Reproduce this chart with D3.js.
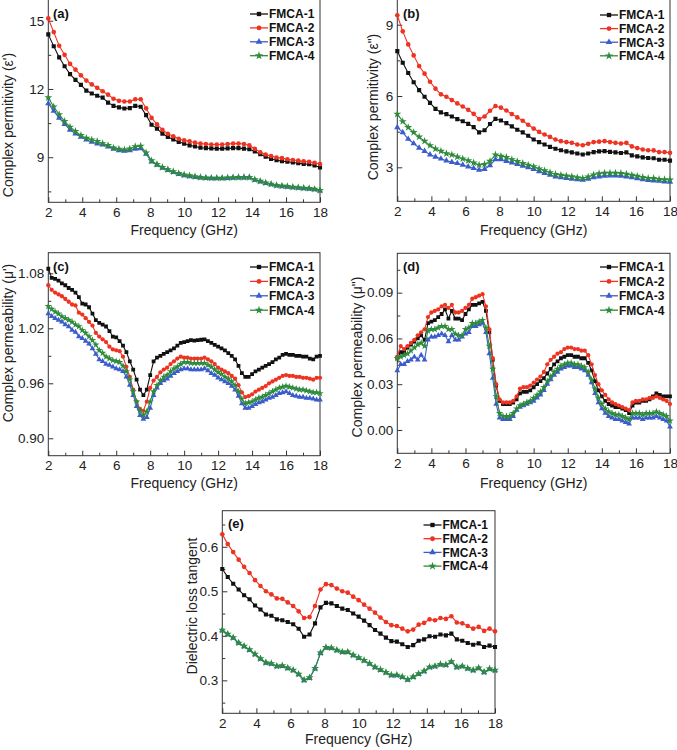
<!DOCTYPE html>
<html><head><meta charset="utf-8">
<script src="https://cdn.jsdelivr.net/npm/d3@7"></script>
<style>body{margin:0;background:#fff;} svg{display:block;font-family:"Liberation Sans",Arial,sans-serif;}</style>
</head><body><svg id="chart" width="677" height="750"></svg>
<script>
const seriesNames = ["FMCA-1","FMCA-2","FMCA-3","FMCA-4"];
const xTicks = [2,4,6,8,10,12,14,16,18];
const xMinor = [3,5,7,9,11,13,15,17];
// frequency grids (GHz)
const freqCoarse = d3.range(51).map(i => +(2 + i * 0.32).toFixed(2));
const freqFine = d3.range(81).map(i => +(2 + i * 0.2).toFixed(2));

// (a) real permittivity
const epsR1 = [14.4,13.88,13.39,13.0,12.65,12.4,12.18,11.93,11.8,11.7,11.62,11.4,11.26,11.19,11.14,11.16,11.26,11.22,10.85,10.43,10.26,10.04,9.89,9.78,9.67,9.6,9.52,9.47,9.42,9.4,9.39,9.38,9.38,9.39,9.4,9.4,9.38,9.35,9.25,9.13,9.02,8.93,8.87,8.83,8.8,8.77,8.74,8.71,8.69,8.64,8.55];
const epsR2 = [15.1,14.5,13.9,13.5,13.1,12.85,12.6,12.37,12.2,12.05,11.9,11.75,11.57,11.48,11.45,11.45,11.55,11.55,11.15,10.73,10.45,10.2,10.03,9.92,9.81,9.74,9.7,9.64,9.6,9.58,9.56,9.56,9.56,9.58,9.6,9.6,9.58,9.52,9.37,9.22,9.12,9.05,8.99,8.96,8.91,8.88,8.85,8.82,8.8,8.76,8.7];
const epsR3 = [11.36,11.03,10.73,10.45,10.2,10.03,9.89,9.77,9.67,9.6,9.55,9.46,9.37,9.3,9.28,9.3,9.37,9.39,9.15,8.81,8.66,8.53,8.43,8.34,8.26,8.2,8.16,8.12,8.1,8.08,8.07,8.07,8.07,8.08,8.09,8.1,8.1,8.1,8.0,7.93,7.86,7.8,7.75,7.72,7.7,7.67,7.65,7.63,7.61,7.58,7.53];
const epsR4 = [11.62,11.22,10.88,10.58,10.33,10.14,9.96,9.84,9.77,9.7,9.6,9.52,9.41,9.36,9.33,9.37,9.47,9.49,9.2,8.85,8.69,8.56,8.46,8.37,8.29,8.23,8.19,8.15,8.12,8.1,8.09,8.09,8.09,8.1,8.11,8.12,8.12,8.12,8.02,7.95,7.88,7.82,7.77,7.74,7.72,7.69,7.67,7.65,7.63,7.6,7.55];

// (b) imaginary permittivity
const epsI1 = [7.89,7.4,6.97,6.58,6.25,5.97,5.71,5.46,5.31,5.24,5.14,5.03,4.94,4.83,4.69,4.47,4.56,4.82,5.04,4.97,4.86,4.72,4.58,4.47,4.33,4.17,4.06,3.96,3.86,3.78,3.72,3.67,3.63,3.58,3.54,3.58,3.64,3.67,3.68,3.65,3.63,3.6,3.63,3.5,3.46,3.42,3.39,3.38,3.32,3.32,3.28];
const epsI2 = [9.4,8.72,8.17,7.71,7.26,6.94,6.6,6.31,6.07,5.97,5.83,5.69,5.56,5.42,5.25,5.03,5.14,5.38,5.58,5.51,5.39,5.24,5.1,4.96,4.79,4.63,4.49,4.38,4.28,4.17,4.1,4.06,4.03,3.96,3.93,3.99,4.06,4.08,4.1,4.06,4.03,4.0,4.03,3.88,3.81,3.75,3.72,3.71,3.64,3.64,3.61];
const epsI3 = [4.68,4.47,4.19,4.0,3.82,3.68,3.53,3.44,3.36,3.28,3.22,3.17,3.1,3.03,2.96,2.89,2.92,3.08,3.33,3.33,3.26,3.19,3.13,3.06,2.99,2.92,2.83,2.75,2.68,2.61,2.57,2.54,2.51,2.49,2.47,2.51,2.57,2.61,2.64,2.65,2.65,2.64,2.61,2.57,2.53,2.49,2.46,2.44,2.43,2.4,2.38];
const epsI4 = [5.24,4.93,4.68,4.47,4.28,4.1,3.92,3.78,3.68,3.58,3.53,3.44,3.36,3.28,3.19,3.1,3.13,3.26,3.53,3.47,3.42,3.33,3.25,3.17,3.1,3.03,2.94,2.86,2.78,2.71,2.67,2.64,2.61,2.57,2.54,2.6,2.69,2.74,2.76,2.76,2.76,2.75,2.72,2.67,2.63,2.58,2.54,2.54,2.5,2.49,2.47];

// (c) real permeability
const muR1 = [1.085,1.075,1.074,1.072,1.069,1.067,1.064,1.062,1.059,1.054,1.047,1.046,1.043,1.036,1.029,1.026,1.024,1.022,1.017,1.011,1.010,1.006,1.001,0.994,0.984,0.975,0.964,0.953,0.947,0.953,0.969,0.984,0.988,0.990,0.992,0.994,0.996,0.998,1.001,1.004,1.005,1.006,1.007,1.0065,1.007,1.0075,1.008,1.006,1.004,1.002,1.000,0.998,0.996,0.993,0.990,0.986,0.979,0.971,0.967,0.967,0.970,0.973,0.975,0.977,0.979,0.981,0.983,0.986,0.988,0.991,0.992,0.991,0.991,0.990,0.990,0.989,0.989,0.987,0.986,0.989,0.990];
const muR2 = [1.067,1.062,1.059,1.057,1.055,1.052,1.049,1.046,1.045,1.037,1.035,1.031,1.027,1.023,1.015,1.011,1.008,1.005,1.000,0.997,0.996,0.995,0.989,0.978,0.967,0.953,0.940,0.932,0.930,0.940,0.955,0.963,0.967,0.972,0.975,0.977,0.981,0.984,0.987,0.989,0.988,0.988,0.987,0.987,0.987,0.987,0.988,0.986,0.984,0.981,0.977,0.975,0.973,0.971,0.968,0.965,0.958,0.950,0.945,0.946,0.948,0.951,0.953,0.955,0.957,0.960,0.962,0.964,0.966,0.968,0.969,0.968,0.968,0.967,0.967,0.966,0.966,0.965,0.964,0.966,0.966];
const muR3 = [1.036,1.033,1.031,1.029,1.027,1.024,1.022,1.018,1.016,1.011,1.009,1.006,1.003,0.998,0.992,0.986,0.984,0.981,0.980,0.978,0.976,0.975,0.973,0.967,0.958,0.947,0.935,0.925,0.921,0.923,0.933,0.947,0.955,0.960,0.963,0.965,0.968,0.971,0.973,0.975,0.976,0.976,0.975,0.975,0.975,0.975,0.976,0.974,0.971,0.969,0.966,0.964,0.962,0.960,0.957,0.953,0.946,0.938,0.933,0.933,0.935,0.937,0.939,0.940,0.942,0.944,0.945,0.947,0.949,0.950,0.951,0.949,0.947,0.946,0.945,0.945,0.944,0.944,0.943,0.942,0.942];
const muR4 = [1.044,1.041,1.038,1.036,1.033,1.031,1.029,1.027,1.024,1.022,1.018,1.015,1.011,1.007,1.002,0.996,0.993,0.989,0.987,0.985,0.984,0.983,0.979,0.973,0.964,0.951,0.940,0.930,0.925,0.929,0.940,0.951,0.958,0.963,0.967,0.969,0.973,0.976,0.978,0.981,0.983,0.983,0.982,0.982,0.982,0.982,0.982,0.980,0.978,0.975,0.972,0.970,0.967,0.965,0.962,0.958,0.951,0.943,0.938,0.939,0.940,0.942,0.944,0.945,0.947,0.949,0.951,0.953,0.955,0.956,0.957,0.956,0.955,0.954,0.953,0.953,0.952,0.951,0.950,0.950,0.949];

// (d) imaginary permeability
const muI1 = [.047,.051,.051,.054,.056,.058,.060,.062,.059,.070,.071,.072,.074,.076,.079,.073,.078,.073,.073,.072,.076,.079,.082,.082,.083,.084,.078,.064,.046,.029,.019,.017,.017,.017,.018,.020,.024,.025,.025,.026,.028,.030,.032,.034,.037,.040,.043,.045,.047,.048,.049,.049,.048,.048,.047,.047,.044,.039,.032,.026,.022,.019,.017,.016,.015,.015,.014,.013,.011,.016,.018,.018,.019,.019,.020,.022,.024,.023,.022,.022,.022];
const muI2 = [.048,.055,.053,.055,.057,.059,.062,.064,.066,.074,.077,.078,.079,.081,.082,.080,.082,.077,.077,.078,.080,.082,.086,.087,.088,.089,.081,.066,.047,.030,.020,.018,.018,.018,.019,.022,.027,.028,.028,.029,.031,.033,.035,.038,.043,.046,.048,.050,.051,.053,.054,.054,.053,.053,.052,.052,.049,.043,.036,.030,.026,.023,.020,.018,.017,.016,.015,.014,.013,.018,.019,.019,.020,.020,.021,.021,.022,.021,.020,.019,.017];
const muI3 = [.039,.043,.043,.045,.046,.048,.046,.049,.046,.059,.061,.061,.062,.063,.062,.058,.062,.059,.059,.061,.063,.064,.068,.068,.069,.070,.064,.050,.034,.017,.008,.007,.007,.007,.009,.013,.015,.016,.017,.018,.019,.021,.023,.026,.030,.033,.036,.038,.040,.041,.042,.042,.041,.041,.040,.039,.036,.031,.024,.018,.014,.011,.009,.008,.007,.007,.006,.005,.004,.008,.008,.008,.007,.008,.008,.008,.009,.008,.007,.006,.002];
const muI4 = [.047,.048,.049,.050,.052,.054,.056,.057,.055,.065,.066,.066,.067,.068,.068,.066,.066,.063,.062,.062,.066,.067,.070,.070,.071,.072,.067,.055,.040,.022,.011,.009,.009,.009,.011,.014,.016,.017,.018,.019,.021,.023,.025,.028,.032,.035,.038,.040,.042,.043,.044,.044,.043,.043,.042,.041,.038,.033,.027,.021,.017,.014,.012,.011,.010,.010,.009,.008,.007,.011,.011,.011,.010,.011,.011,.011,.012,.011,.010,.009,.006];

// (e) dielectric loss tangent
const tan1 = [0.55,0.532,0.517,0.504,0.491,0.482,0.468,0.459,0.448,0.445,0.437,0.435,0.431,0.426,0.416,0.398,0.403,0.428,0.464,0.474,0.473,0.467,0.461,0.458,0.45,0.443,0.434,0.424,0.413,0.405,0.396,0.388,0.387,0.381,0.375,0.379,0.389,0.392,0.399,0.398,0.403,0.401,0.405,0.392,0.389,0.384,0.38,0.383,0.375,0.378,0.375];
const tan2 = [0.628,0.606,0.588,0.571,0.555,0.541,0.525,0.512,0.5,0.493,0.484,0.483,0.475,0.467,0.455,0.44,0.442,0.467,0.504,0.516,0.514,0.506,0.5,0.497,0.488,0.48,0.47,0.461,0.452,0.441,0.431,0.424,0.422,0.416,0.41,0.414,0.425,0.429,0.437,0.435,0.44,0.438,0.444,0.43,0.428,0.422,0.416,0.42,0.411,0.416,0.41];
const tan3 = [0.412,0.403,0.395,0.384,0.376,0.368,0.358,0.348,0.339,0.337,0.331,0.332,0.327,0.322,0.313,0.300,0.305,0.326,0.361,0.373,0.372,0.367,0.363,0.363,0.356,0.350,0.344,0.337,0.329,0.323,0.317,0.311,0.311,0.307,0.301,0.307,0.314,0.320,0.329,0.331,0.335,0.334,0.341,0.329,0.331,0.326,0.322,0.327,0.318,0.325,0.322];
const tan4 = [0.413,0.404,0.396,0.384,0.377,0.369,0.359,0.349,0.34,0.338,0.332,0.333,0.328,0.323,0.314,0.301,0.306,0.327,0.362,0.374,0.373,0.368,0.364,0.364,0.357,0.351,0.345,0.338,0.33,0.324,0.318,0.312,0.312,0.308,0.302,0.308,0.315,0.321,0.33,0.332,0.336,0.335,0.342,0.33,0.332,0.327,0.323,0.328,0.319,0.326,0.323];

// y tick labels per panel
const yTicksA = [9,12,15], yMinorA = [7.5,10.5,13.5];
const yTicksB = [3,6,9], yMinorB = [4.5,7.5];
const yTicksC = [0.90,0.96,1.02,1.08], yMinorC = [0.93,0.99,1.05];
const yTicksD = [0,0.03,0.06,0.09], yMinorD = [0.015,0.045,0.075,0.105];
const yTicksE = [0.3,0.4,0.5,0.6], yMinorE = [0.25,0.35,0.45,0.55,0.65];

const colors = ["#111111","#ee3322","#3a5ccc","#2e8b3c"];
const symbols = [d3.symbolSquare, d3.symbolCircle, d3.symbolTriangle, d3.symbolStar];
const symSize = [17, 17, 17, 20];

const panels = [
  {label:"(a)", x:freqCoarse, data:[epsR1,epsR2,epsR3,epsR4], yDom:[7.02,15.91], yT:yTicksA, yM:yMinorA, fmt:d3.format("d"),
   L:48.3, R:320, T:0, B:202.3, ytitle:"Complex permitivity (\u03b5')", ytX:8.5, ytY:125, legX:250, legY:14, legDy:13.9, labX:53, labY:13, xtY:230, mk:1},
  {label:"(b)", x:freqCoarse, data:[epsI1,epsI2,epsI3,epsI4], yDom:[1.57,10.04], yT:yTicksB, yM:yMinorB, fmt:d3.format("d"),
   L:397.3, R:670, T:0, B:201.3, ytitle:"Complex permitivity (\u03b5\")", ytX:373.5, ytY:107, legX:600, legY:15, legDy:13.6, labX:403, labY:13, xtY:230, mk:1},
  {label:"(c)", x:freqFine, data:[muR1,muR2,muR3,muR4], yDom:[0.881,1.1025], yT:yTicksC, yM:yMinorC, fmt:d3.format(".2f"),
   L:48.3, R:320, T:252.7, B:455.7, ytitle:"Complex permeability (\u03bc')", ytX:8.5, ytY:343, legX:250, legY:267, legDy:14.4, labX:53, labY:266, xtY:483, mk:0.85},
  {label:"(d)", x:freqFine, data:[muI1,muI2,muI3,muI4], yDom:[-0.0153,0.1158], yT:yTicksD, yM:yMinorD, fmt:d3.format(".2f"),
   L:397.3, R:670, T:253.3, B:453.3, ytitle:"Complex permeability (\u03bc\")", ytX:357, ytY:357, legX:600, legY:267, legDy:14.4, labX:403, labY:266, xtY:483, mk:0.85},
  {label:"(e)", x:freqCoarse, data:[tan1,tan2,tan3,tan4], yDom:[0.226,0.681], yT:yTicksE, yM:yMinorE, fmt:d3.format(".1f"),
   L:222.3, R:495, T:510.7, B:713.3, ytitle:"Dielectric loss tangent", ytX:192.5, ytY:606, legX:423.5, legY:525, legDy:13.7, labX:228, labY:523, xtY:739, mk:1}
];

const svg = d3.select("#chart");
const axisColor = "#333";

panels.forEach(p => {
  const g = svg.append("g");
  const x = d3.scaleLinear().domain([2,18]).range([p.L, p.R]);
  const y = d3.scaleLinear().domain(p.yDom).range([p.B, p.T]);

  const styleAxis = sel => {
    sel.select(".domain").remove();
    sel.selectAll("line").attr("stroke", axisColor);
    sel.selectAll("text").attr("font-size", 13.5).attr("fill", "#222").attr("font-family", "Liberation Sans, Arial, sans-serif");
  };

  g.append("g").attr("transform", `translate(0,${p.B})`)
    .call(d3.axisBottom(x).tickValues(xTicks).tickSize(-5).tickPadding(5).tickFormat(d3.format("d"))).call(styleAxis);
  g.append("g").attr("transform", `translate(0,${p.B})`)
    .call(d3.axisBottom(x).tickValues(xMinor).tickSize(-3).tickFormat("")).call(styleAxis);
  g.append("g").attr("transform", `translate(${p.L},0)`)
    .call(d3.axisLeft(y).tickValues(p.yT).tickSize(-5).tickPadding(4).tickFormat(p.fmt)).call(styleAxis);
  g.append("g").attr("transform", `translate(${p.L},0)`)
    .call(d3.axisLeft(y).tickValues(p.yM).tickSize(-3).tickFormat("")).call(styleAxis);

  // frame
  g.append("rect").attr("x", p.L).attr("y", p.T === 0 ? -1 : p.T)
    .attr("width", p.R - p.L).attr("height", p.B - (p.T === 0 ? -1 : p.T))
    .attr("fill", "none").attr("stroke", axisColor).attr("stroke-width", 1);

  const clipId = "clip" + p.label.replace(/\W/g, "");
  svg.append("clipPath").attr("id", clipId).append("rect")
    .attr("x", p.L - 4).attr("y", p.T - 4).attr("width", p.R - p.L + 8).attr("height", p.B - p.T + 8);
  const plot = g.append("g").attr("clip-path", `url(#${clipId})`);

  const line = d3.line().x((d, i) => x(p.x[i])).y(d => y(d));
  p.data.forEach((vals, si) => {
    const sg = plot.append("g");
    sg.append("path").datum(vals).attr("d", line)
      .attr("fill", "none").attr("stroke", colors[si]).attr("stroke-width", 1.1);
    sg.selectAll("path.m").data(vals).join("path").attr("class", "m")
      .attr("transform", (d, i) => `translate(${x(p.x[i])},${y(d)})`)
      .attr("d", d3.symbol().type(symbols[si]).size(symSize[si] * p.mk))
      .attr("fill", colors[si]);
  });

  // panel label
  g.append("text").attr("x", p.labX).attr("y", p.labY).attr("dy", "0.35em")
    .attr("font-size", 13).attr("font-weight", "bold").attr("fill", "#111").text(p.label);

  // legend
  seriesNames.forEach((name, si) => {
    const ly = p.legY + si * p.legDy;
    g.append("line").attr("x1", p.legX).attr("x2", p.legX + 18).attr("y1", ly).attr("y2", ly)
      .attr("stroke", colors[si]).attr("stroke-width", 1.3);
    g.append("path").attr("transform", `translate(${p.legX + 9},${ly})`)
      .attr("d", d3.symbol().type(symbols[si]).size(symSize[si] * 1.1)).attr("fill", colors[si]);
    g.append("text").attr("x", p.legX + 19).attr("y", ly).attr("dy", "0.36em")
      .attr("font-size", 12).attr("font-weight", "bold").attr("fill", "#111").text(name);
  });

  // axis titles
  g.append("text").attr("x", (p.L + p.R) / 2).attr("y", p.xtY).attr("dy", "0.35em")
    .attr("text-anchor", "middle").attr("font-size", 14).attr("fill", "#222").text("Frequency (GHz)");
  g.append("text").attr("transform", `translate(${p.ytX},${p.ytY}) rotate(-90)`).attr("dy", "0.35em")
    .attr("text-anchor", "middle").attr("font-size", 14).attr("fill", "#222").text(p.ytitle);
});
</script></body></html>
